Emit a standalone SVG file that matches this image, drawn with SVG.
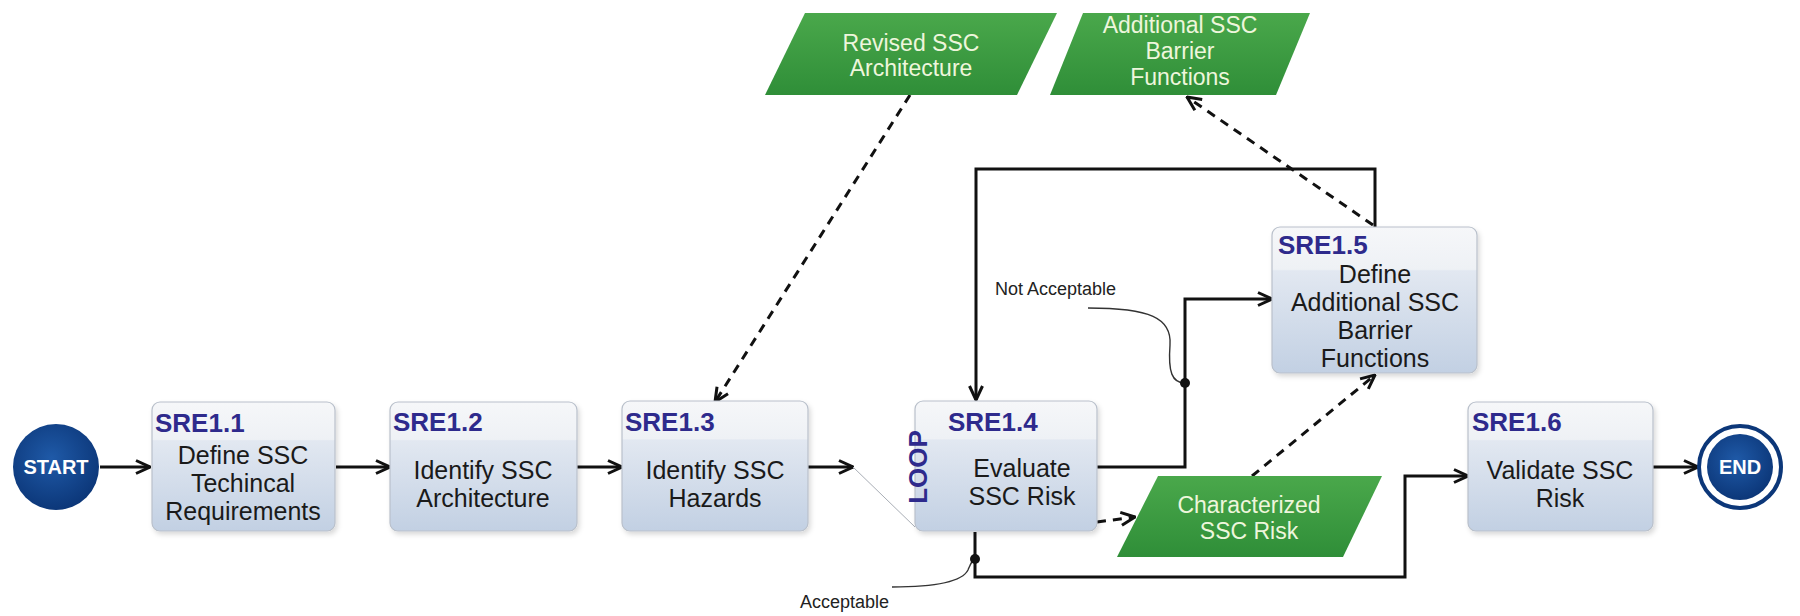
<svg xmlns="http://www.w3.org/2000/svg" width="1800" height="616" viewBox="0 0 1800 616">
  <style>
    .box { fill: url(#boxFill); stroke: #b9c0cb; stroke-width: 1.2; filter: url(#shadow); }
    .id { font-family: "Liberation Sans", Arial, sans-serif; font-weight: bold; font-size: 26px; fill: #2e2a8c; }
    .body { font-family: "Liberation Sans", Arial, sans-serif; font-size: 25px; fill: #1a1a1a; text-anchor: middle; }
    .data { fill: url(#greenFill); }
    .dtext { font-family: "Liberation Sans", Arial, sans-serif; font-size: 23px; fill: #eef6dc; text-anchor: middle; }
    .term { font-family: "Liberation Sans", Arial, sans-serif; font-weight: bold; font-size: 20px; fill: #ffffff; text-anchor: middle; }
    .note { font-family: "Liberation Sans", Arial, sans-serif; font-size: 18px; fill: #222; }
    .flow { fill: none; stroke: #111; stroke-width: 3; marker-end: url(#open); }
    .dash { fill: none; stroke: #111; stroke-width: 3; stroke-dasharray: 9 7; marker-end: url(#open); }
    .leader { fill: none; stroke: #333; stroke-width: 1.4; }
  </style>
  <defs>
    <linearGradient id="boxFill" x1="0" y1="0" x2="0" y2="1">
      <stop offset="0" stop-color="#f6f7f9"/>
      <stop offset="0.29" stop-color="#eef1f5"/>
      <stop offset="0.30" stop-color="#e2e8f1"/>
      <stop offset="1" stop-color="#c2d0e3"/>
    </linearGradient>
    <linearGradient id="greenFill" x1="0" y1="0" x2="0" y2="1">
      <stop offset="0" stop-color="#4aa84b"/>
      <stop offset="1" stop-color="#2f8e38"/>
    </linearGradient>
    <radialGradient id="termFill" cx="0.45" cy="0.4" r="0.6">
      <stop offset="0" stop-color="#1f5aa8"/>
      <stop offset="1" stop-color="#0c3779"/>
    </radialGradient>
    <filter id="shadow" x="-10%" y="-10%" width="125%" height="125%">
      <feDropShadow dx="2" dy="3" stdDeviation="2.5" flood-color="#000" flood-opacity="0.15"/>
    </filter>
    <marker id="open" viewBox="0 0 16 16" refX="15" refY="8" markerWidth="16" markerHeight="16" markerUnits="userSpaceOnUse" orient="auto">
      <path d="M1,1.5 L15,8 L1,14.5" fill="none" stroke="#111" stroke-width="3" stroke-dasharray="none"/>
    </marker>
  </defs>

  <rect width="1800" height="616" fill="#ffffff"/>

  <!-- connectors -->
  <g id="connectors">
    <path class="flow" d="M100,467 H150"/>
    <path class="flow" d="M336,467 H390"/>
    <path class="flow" d="M577,467 H622"/>
    <path class="flow" d="M808,467 H853"/>
    <line x1="853" y1="467" x2="915" y2="527" stroke="#a8adb5" stroke-width="1"/>
    <path class="flow" d="M1097,467 H1185 V299 H1272"/>
    <path class="flow" d="M1375,227 V169 H976 V400"/>
    <path class="flow" d="M975,532 V577 H1405 V476 H1468"/>
    <path class="flow" d="M1653,467 H1698"/>
    <path class="dash" d="M910,95 L715,402"/>
    <path class="dash" d="M1373,225 L1187,97"/>
    <path class="dash" d="M1097,522 L1135,517"/>
    <path class="dash" d="M1252,476 L1375,375"/>
    <path class="leader" d="M1088,308 C1150,308 1172,318 1170,345 C1168,372 1172,383 1185,383"/>
    <circle cx="1185" cy="383" r="5" fill="#111"/>
    <path class="leader" d="M892,587 C935,587 962,582 968,570 C971,563 972,560 975,559"/>
    <circle cx="975" cy="559" r="5" fill="#111"/>
    <text class="note" x="995" y="295">Not Acceptable</text>
    <text class="note" x="800" y="608">Acceptable</text>
  </g>

  <!-- terminals -->
  <g id="start">
    <circle cx="56" cy="467" r="43" fill="url(#termFill)"/>
    <text class="term" x="56" y="474">START</text>
  </g>
  <g id="end">
    <circle cx="1740" cy="467" r="41" fill="#ffffff" stroke="#0c3779" stroke-width="4"/>
    <circle cx="1740" cy="467" r="33" fill="url(#termFill)"/>
    <text class="term" x="1740" y="474">END</text>
  </g>

  <!-- process steps -->
  <g id="sre1-1">
    <rect class="box" x="152" y="402" width="183" height="129" rx="8"/>
    <text class="id" x="155" y="432">SRE1.1</text>
    <text class="body" x="243" y="464">Define SSC</text>
    <text class="body" x="243" y="492">Techincal</text>
    <text class="body" x="243" y="520">Requirements</text>
  </g>
  <g id="sre1-2">
    <rect class="box" x="390" y="402" width="187" height="129" rx="8"/>
    <text class="id" x="393" y="431">SRE1.2</text>
    <text class="body" x="483" y="479">Identify SSC</text>
    <text class="body" x="483" y="507">Architecture</text>
  </g>
  <g id="sre1-3">
    <rect class="box" x="622" y="401" width="186" height="130" rx="8"/>
    <text class="id" x="625" y="431">SRE1.3</text>
    <text class="body" x="715" y="479">Identify SSC</text>
    <text class="body" x="715" y="507">Hazards</text>
  </g>
  <g id="sre1-4">
    <rect class="box" x="915" y="401" width="182" height="130" rx="8"/>
    <text class="id" x="948" y="431">SRE1.4</text>
    <text class="id" transform="translate(927,467) rotate(-90)" text-anchor="middle" font-size="24">LOOP</text>
    <text class="body" x="1022" y="477">Evaluate</text>
    <text class="body" x="1022" y="505">SSC Risk</text>
  </g>
  <g id="sre1-5">
    <rect class="box" x="1272" y="227" width="205" height="146" rx="8"/>
    <text class="id" x="1278" y="254">SRE1.5</text>
    <text class="body" x="1375" y="283">Define</text>
    <text class="body" x="1375" y="311">Additional SSC</text>
    <text class="body" x="1375" y="339">Barrier</text>
    <text class="body" x="1375" y="367">Functions</text>
  </g>
  <g id="sre1-6">
    <rect class="box" x="1468" y="402" width="185" height="129" rx="8"/>
    <text class="id" x="1472" y="431">SRE1.6</text>
    <text class="body" x="1560" y="479">Validate SSC</text>
    <text class="body" x="1560" y="507">Risk</text>
  </g>

  <!-- data items -->
  <g id="revised-architecture">
    <polygon class="data" points="805,13 1057,13 1017,95 765,95"/>
    <text class="dtext" x="911" y="51">Revised SSC</text>
    <text class="dtext" x="911" y="76">Architecture</text>
  </g>
  <g id="additional-barriers">
    <polygon class="data" points="1083,13 1310,13 1276,95 1050,95"/>
    <text class="dtext" x="1180" y="33">Additional SSC</text>
    <text class="dtext" x="1180" y="59">Barrier</text>
    <text class="dtext" x="1180" y="85">Functions</text>
  </g>
  <g id="characterized-risk">
    <polygon class="data" points="1158,476 1382,476 1343,557 1117,557"/>
    <text class="dtext" x="1249" y="513">Characterized</text>
    <text class="dtext" x="1249" y="539">SSC Risk</text>
  </g>
</svg>
